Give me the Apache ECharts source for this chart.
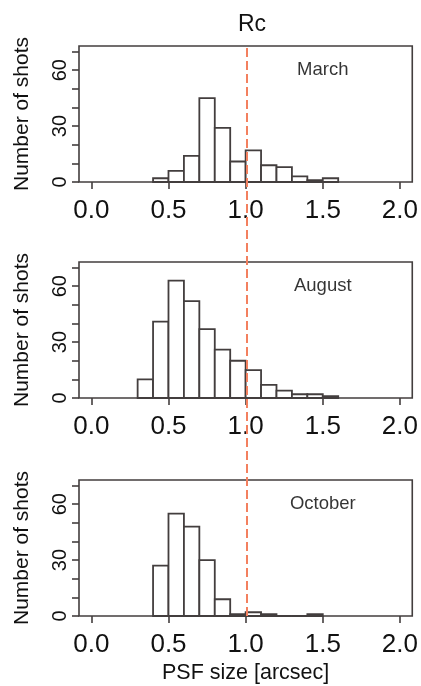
<!DOCTYPE html>
<html>
<head>
<meta charset="utf-8">
<script src="https://cdn.jsdelivr.net/npm/echarts@6.0.0/dist/echarts.min.js"></script>
<style>
html, body { margin: 0; padding: 0; background: #fff; }
#main { width: 421px; height: 686px; }
</style>
</head>
<body>
<div id="main"></div>
<script>
// lower edges of the 0.1 arcsec bins
var binLeft = [0.3, 0.4, 0.5, 0.6, 0.7, 0.8, 0.9, 1.0, 1.1, 1.2, 1.3, 1.4, 1.5];
var binWidth = 0.1;

// counts per bin (null = no bar)
var marchCounts   = [null, 2, 6, 14, 45, 29, 11, 17, 9, 8, 3, 1, 2];
var augustCounts  = [10, 41, 63, 52, 37, 26, 20, 15, 7, 4, 2, 2, 1];
var octoberCounts = [null, 27, 55, 48, 30, 9, 1, 2, 1, 0, 0, 1, null];

var months = ['March', 'August', 'October'];
var monthLabelAt = [1.5, 60];
var refLine = 1.0;

var xTicks = [0, 0.5, 1, 1.5, 2];
var yTicks = [0, 10, 20, 30, 40, 50, 60, 70];
var yLabels = [0, 30, 60];

var ink = '#433e3e';
var txt = '#111';
var font = 'Liberation Sans';

var panelTops = [46, 262, 480];
var panelHeight = 136;

var dom = document.getElementById('main');
var myChart = echarts.init(dom);

function toRows(counts) {
    var rows = [];
    for (var i = 0; i < counts.length; i++) {
        if (counts[i] === null) continue;
        rows.push([binLeft[i], +(binLeft[i] + binWidth).toFixed(2), counts[i]]);
    }
    return rows;
}

function renderBin(params, api) {
    var p0 = api.coord([api.value(0), 0]);
    var p1 = api.coord([api.value(1), api.value(2)]);
    return {
        type: 'rect',
        shape: { x: p0[0], y: p1[1], width: p1[0] - p0[0], height: p0[1] - p1[1] },
        style: { fill: '#fff', stroke: ink, lineWidth: 1.8 }
    };
}

var allCounts = [marchCounts, augustCounts, octoberCounts];
var grids = [], xAxes = [], yAxes = [], series = [];

for (var i = 0; i < 3; i++) {
    grids.push({
        left: 79, right: 6, top: panelTops[i], height: panelHeight,
        show: true, borderColor: ink, borderWidth: 1.6
    });
    xAxes.push({
        gridIndex: i, type: 'value', min: -0.08, max: 2.08,
        splitLine: { show: false },
        axisLine: { show: false, onZero: false },
        axisTick: { customValues: xTicks, length: 7, lineStyle: { color: ink, width: 1.6 } },
        axisLabel: {
            customValues: xTicks, margin: 16, fontSize: 26, color: txt, fontFamily: font,
            formatter: function (v) { return v.toFixed(1); }
        },
        name: i === 2 ? 'PSF size [arcsec]' : '',
        nameLocation: 'middle', nameGap: 46,
        nameTextStyle: { fontSize: 21.5, color: txt, fontFamily: font }
    });
    yAxes.push({
        gridIndex: i, type: 'value', min: 0, max: 73,
        splitLine: { show: false },
        axisLine: { show: false, onZero: false },
        axisTick: { customValues: yTicks, length: 7, lineStyle: { color: ink, width: 1.6 } },
        axisLabel: { customValues: yLabels, rotate: 90, margin: 9, fontSize: 20, color: txt, fontFamily: font },
        name: 'Number of shots', nameLocation: 'middle', nameRotate: 90, nameGap: 46,
        nameTextStyle: { fontSize: 21, color: txt, fontFamily: font }
    });
    series.push({
        type: 'custom', xAxisIndex: i, yAxisIndex: i,
        encode: { x: [0, 1], y: 2 },
        data: toRows(allCounts[i]),
        renderItem: renderBin
    });
    series.push({
        type: 'scatter', xAxisIndex: i, yAxisIndex: i,
        symbolSize: 1, itemStyle: { color: 'transparent' },
        data: [monthLabelAt],
        label: {
            show: true, position: 'inside', formatter: months[i],
            fontSize: 18.5, color: '#000', textBorderWidth: 0, fontFamily: font
        }
    });
}

// one tall hidden grid for the dashed reference line crossing all panels
grids.push({ left: 79, right: 6, top: 46, bottom: 70 });
xAxes.push({ gridIndex: 3, type: 'value', min: -0.08, max: 2.08, show: false });
yAxes.push({ gridIndex: 3, type: 'value', min: 0, max: 1, show: false });
series.push({
    type: 'line', xAxisIndex: 3, yAxisIndex: 3, symbol: 'none',
    lineStyle: { opacity: 0 },
    data: [[refLine, 0]],
    markLine: {
        silent: true, symbol: 'none', label: { show: false },
        lineStyle: { color: '#f3805f', type: [9, 4], width: 2 },
        data: [{ xAxis: refLine }]
    }
});

var option = {
    animation: false,
    backgroundColor: '#fff',
    title: {
        text: 'Rc', left: 247, top: 8, textAlign: 'center',
        textStyle: { fontSize: 23, fontWeight: 'normal', color: txt, fontFamily: font }
    },
    grid: grids,
    xAxis: xAxes,
    yAxis: yAxes,
    series: series
};

myChart.setOption(option);

window.addEventListener('resize', function () {
    myChart.resize();
});
</script>
</body>
</html>
